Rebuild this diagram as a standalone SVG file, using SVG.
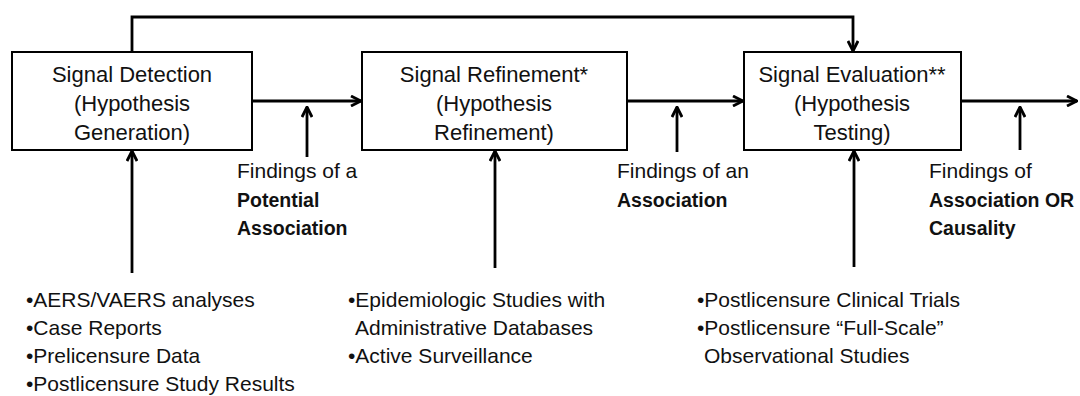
<svg xmlns="http://www.w3.org/2000/svg" width="1080" height="396" viewBox="0 0 1080 396">
<style>
.box{fill:#fff;stroke:#000;stroke-width:2}
.t{font-family:"Liberation Sans",Arial,sans-serif;font-size:21px;fill:#111}
.bt{font-family:"Liberation Sans",Arial,sans-serif;font-size:22px;fill:#111;text-anchor:middle}
.b{font-weight:bold;font-size:19.5px}
.c{fill:none;stroke:#000;stroke-width:2.8}
</style>
<defs>
<marker id="ah" viewBox="0 0 12 12" refX="11" refY="6" markerWidth="12" markerHeight="12" markerUnits="userSpaceOnUse" orient="auto">
<path d="M1,1 L11,6 L1,11" fill="none" stroke="#000" stroke-width="2.8"/>
</marker>
</defs>
<rect width="1080" height="396" fill="#fff"/>
<g id="connectors">
<path class="c" d="M132,52 V17 H853 V51" marker-end="url(#ah)"/>
<path class="c" d="M252,101 H361" marker-end="url(#ah)"/>
<path class="c" d="M627,101 H743" marker-end="url(#ah)"/>
<path class="c" d="M961,101 H1077" marker-end="url(#ah)"/>
<path class="c" d="M307,157 V107" marker-end="url(#ah)"/>
<path class="c" d="M677,152 V107" marker-end="url(#ah)"/>
<path class="c" d="M1020,150 V107" marker-end="url(#ah)"/>
<path class="c" d="M132,273 V151" marker-end="url(#ah)"/>
<path class="c" d="M495,268 V151" marker-end="url(#ah)"/>
<path class="c" d="M854,267 V151" marker-end="url(#ah)"/>
</g>
<g id="detection">
<rect class="box" x="12" y="52" width="240" height="98"/>
<text class="bt" x="132" y="82">Signal Detection</text>
<text class="bt" x="132" y="111">(Hypothesis</text>
<text class="bt" x="132" y="140">Generation)</text>
</g>
<g id="refinement">
<rect class="box" x="362" y="52" width="265" height="98"/>
<text class="bt" x="494" y="82">Signal Refinement*</text>
<text class="bt" x="494" y="111">(Hypothesis</text>
<text class="bt" x="494" y="140">Refinement)</text>
</g>
<g id="evaluation">
<rect class="box" x="744" y="52" width="217" height="98"/>
<text class="bt" x="852" y="82">Signal Evaluation**</text>
<text class="bt" x="852" y="111">(Hypothesis</text>
<text class="bt" x="852" y="140">Testing)</text>
</g>
<g id="finding1">
<text class="t" x="237" y="178">Findings of a</text>
<text class="t b" x="237" y="207">Potential</text>
<text class="t b" x="237" y="235">Association</text>
</g>
<g id="finding2">
<text class="t" x="617" y="178">Findings of an</text>
<text class="t b" x="617" y="207">Association</text>
</g>
<g id="finding3">
<text class="t" x="929" y="178">Findings of</text>
<text class="t b" x="929" y="207">Association OR</text>
<text class="t b" x="929" y="235">Causality</text>
</g>
<g id="sources1">
<text class="t" x="26" y="307">•AERS/VAERS analyses</text>
<text class="t" x="26" y="335">•Case Reports</text>
<text class="t" x="26" y="363">•Prelicensure Data</text>
<text class="t" x="26" y="391">•Postlicensure Study Results</text>
</g>
<g id="sources2">
<text class="t" x="348" y="307">•Epidemiologic Studies with</text>
<text class="t" x="355" y="335">Administrative Databases</text>
<text class="t" x="348" y="363">•Active Surveillance</text>
</g>
<g id="sources3">
<text class="t" x="697" y="307">•Postlicensure Clinical Trials</text>
<text class="t" x="697" y="335">•Postlicensure “Full-Scale”</text>
<text class="t" x="704" y="363">Observational Studies</text>
</g>
</svg>
